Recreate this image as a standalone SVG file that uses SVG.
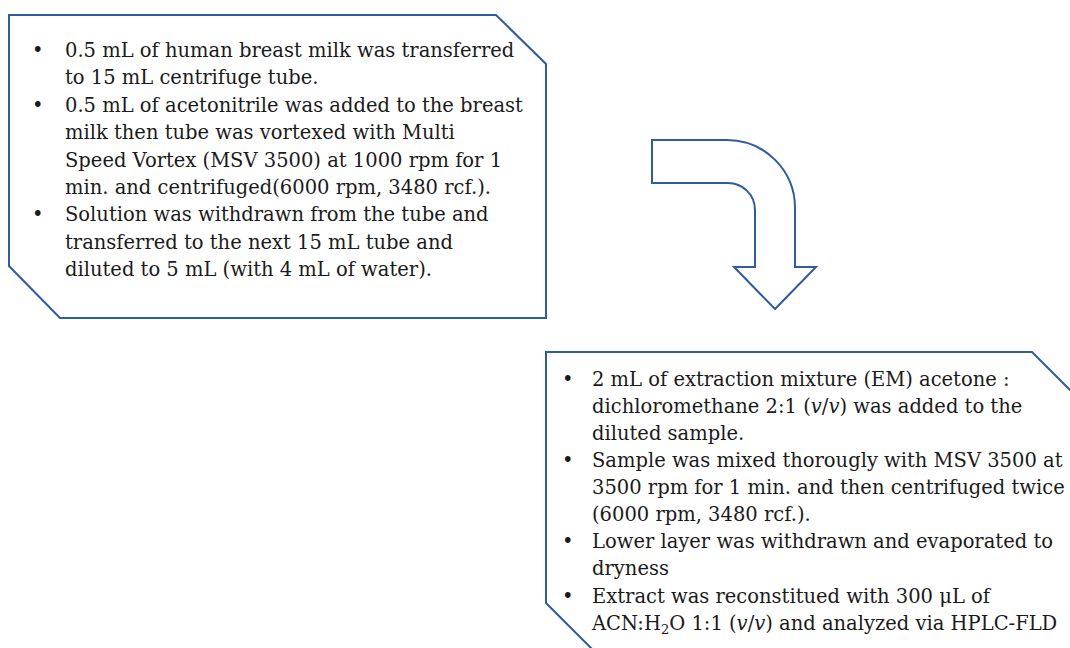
<svg xmlns="http://www.w3.org/2000/svg" width="1070" height="648" viewBox="0 0 1070 648">
<style>
.box{fill:#fff;stroke:#2F5C9F;stroke-width:2;stroke-linejoin:miter}
.t{font-family:"DejaVu Serif","Liberation Serif",serif;font-size:19.5px;fill:#1a1a1a}
.it{font-style:italic}
</style>
<rect width="1070" height="648" fill="#fff"/>
<g id="step1">
<polygon class="box" points="9,15 496,15 546,64 546,318 60,318 9,266"/>
<g class="t">
<text x="32" y="57">•</text>
<text x="65" y="57">0.5 mL of human breast milk was transferred</text>
<text x="65" y="84">to 15 mL centrifuge tube.</text>
<text x="32" y="112">•</text>
<text x="65" y="112">0.5 mL of acetonitrile was added to the breast</text>
<text x="65" y="139">milk then tube was vortexed with Multi</text>
<text x="65" y="167">Speed Vortex (MSV 3500) at 1000 rpm for 1</text>
<text x="65" y="194">min. and centrifuged(6000 rpm, 3480 rcf.).</text>
<text x="32" y="221">•</text>
<text x="65" y="221">Solution was withdrawn from the tube and</text>
<text x="65" y="249">transferred to the next 15 mL tube and</text>
<text x="65" y="276">diluted to 5 mL (with 4 mL of water).</text>
</g>
</g>
<g id="step2">
<polygon class="box" points="546,352 1032,352 1095,415 1095,670 613,670 546,603"/>
<g class="t">
<text x="562" y="386">•</text>
<text x="592" y="386">2 mL of extraction mixture (EM) acetone :</text>
<text x="592" y="413">dichloromethane 2:1 (<tspan class="it">v</tspan>/<tspan class="it">v</tspan>) was added to the</text>
<text x="592" y="440">diluted sample.</text>
<text x="562" y="467">•</text>
<text x="592" y="467">Sample was mixed thorougly with MSV 3500 at</text>
<text x="592" y="494">3500 rpm for 1 min. and then centrifuged twice</text>
<text x="592" y="521">(6000 rpm, 3480 rcf.).</text>
<text x="562" y="548">•</text>
<text x="592" y="548">Lower layer was withdrawn and evaporated to</text>
<text x="592" y="575">dryness</text>
<text x="562" y="603">•</text>
<text x="592" y="603">Extract was reconstitued with 300 μL of</text>
<text x="592" y="630">ACN:H<tspan font-size="13" dy="4">2</tspan><tspan dy="-4">O 1:1 (</tspan><tspan class="it">v</tspan>/<tspan class="it">v</tspan>) and analyzed via HPLC-FLD</text>
</g>
</g>
<g id="connectors">
<path class="box" d="M652,140 L727,140 A68,68 0 0 1 795,208 L795,267 L816,267 L775,309 L734,267 L755,267 L755,210 A27,27 0 0 0 728,183 L652,183 Z"/>
</g>
</svg>
